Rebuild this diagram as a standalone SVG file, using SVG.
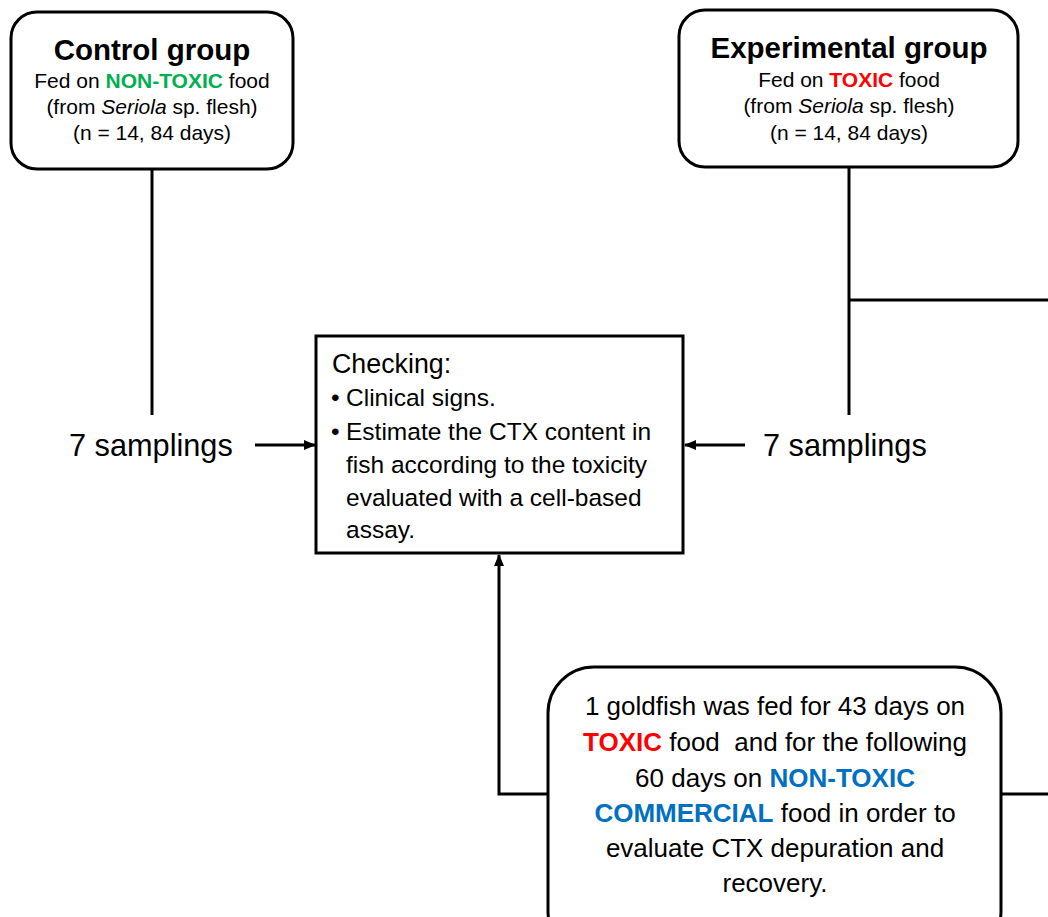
<svg xmlns="http://www.w3.org/2000/svg" width="1048" height="917" viewBox="0 0 1048 917">
<style>
text{font-family:"Liberation Sans",Arial,sans-serif;fill:#000}
.box{fill:#fff;stroke:#000;stroke-width:3}
.ln{fill:none;stroke:#000;stroke-width:3}
.t{font-size:29.5px;font-weight:bold}
.s{font-size:21px}
.b{font-weight:bold}
.red{fill:#FF0000}
.grn{fill:#00B050}
.blu{fill:#0070C0}
.chk{font-size:24.5px}
.smp{font-size:30.7px}
.dep{font-size:26px}
</style>
<defs>
<marker id="ah" markerWidth="12" markerHeight="10" refX="11" refY="5" orient="auto" markerUnits="userSpaceOnUse">
<path d="M0,0 L12,5 L0,10 Z" fill="#000"/>
</marker>
</defs>
<rect width="1048" height="917" fill="#fff"/>
<g id="connectors">
<line class="ln" x1="152" y1="169" x2="152" y2="415"/>
<line class="ln" x1="849" y1="167" x2="849" y2="415"/>
<line class="ln" x1="849" y1="300" x2="1048" y2="300"/>
<line class="ln" x1="255" y1="445" x2="315" y2="445" marker-end="url(#ah)"/>
<line class="ln" x1="745" y1="445" x2="685" y2="445" marker-end="url(#ah)"/>
<polyline class="ln" points="548,794 499,794 499,555" marker-end="url(#ah)"/>
<line class="ln" x1="1001" y1="794" x2="1048" y2="794"/>
</g>
<g id="control">
<rect class="box" x="11" y="12" width="282" height="157" rx="26"/>
<text class="t" x="152" y="60" text-anchor="middle">Control group</text>
<text class="s" x="152" y="88" text-anchor="middle">Fed on <tspan class="b grn">NON-TOXIC</tspan> food</text>
<text class="s" x="152" y="114" text-anchor="middle">(from <tspan font-style="italic">Seriola</tspan> sp. flesh)</text>
<text class="s" x="152" y="140" text-anchor="middle">(n = 14, 84 days)</text>
</g>
<g id="experimental">
<rect class="box" x="679" y="10" width="339" height="157" rx="26"/>
<text class="t" x="849" y="58" text-anchor="middle">Experimental group</text>
<text class="s" x="849" y="87" text-anchor="middle">Fed on <tspan class="b red">TOXIC</tspan> food</text>
<text class="s" x="849" y="113" text-anchor="middle">(from <tspan font-style="italic">Seriola</tspan> sp. flesh)</text>
<text class="s" x="849" y="140" text-anchor="middle">(n = 14, 84 days)</text>
</g>
<g id="checking">
<rect class="box" x="316" y="336" width="367" height="217"/>
<text x="332" y="373" font-size="26.8">Checking:</text>
<text class="chk" x="331" y="406">•</text>
<text class="chk" x="346" y="406">Clinical signs.</text>
<text class="chk" x="331" y="440">•</text>
<text class="chk" x="346" y="440">Estimate the CTX content in</text>
<text class="chk" x="346" y="473">fish according to the toxicity</text>
<text class="chk" x="346" y="506">evaluated with a cell-based</text>
<text class="chk" x="346" y="538">assay.</text>
</g>
<g id="samplings-left">
<text class="smp" x="69" y="456">7 samplings</text>
</g>
<g id="samplings-right">
<text class="smp" x="763" y="456">7 samplings</text>
</g>
<g id="depuration">
<rect class="box" x="548" y="667" width="453" height="290" rx="46"/>
<text class="dep" x="775" y="715" text-anchor="middle">1 goldfish was fed for 43 days on</text>
<text class="dep" x="775" y="751" text-anchor="middle" xml:space="preserve"><tspan class="b red">TOXIC</tspan> food  and for the following</text>
<text class="dep" x="775" y="787" text-anchor="middle">60 days on <tspan class="b blu">NON-TOXIC</tspan></text>
<text class="dep" x="775" y="822" text-anchor="middle"><tspan class="b blu">COMMERCIAL</tspan> food in order to</text>
<text class="dep" x="775" y="857" text-anchor="middle">evaluate CTX depuration and</text>
<text class="dep" x="775" y="892" text-anchor="middle">recovery.</text>
</g>
</svg>
